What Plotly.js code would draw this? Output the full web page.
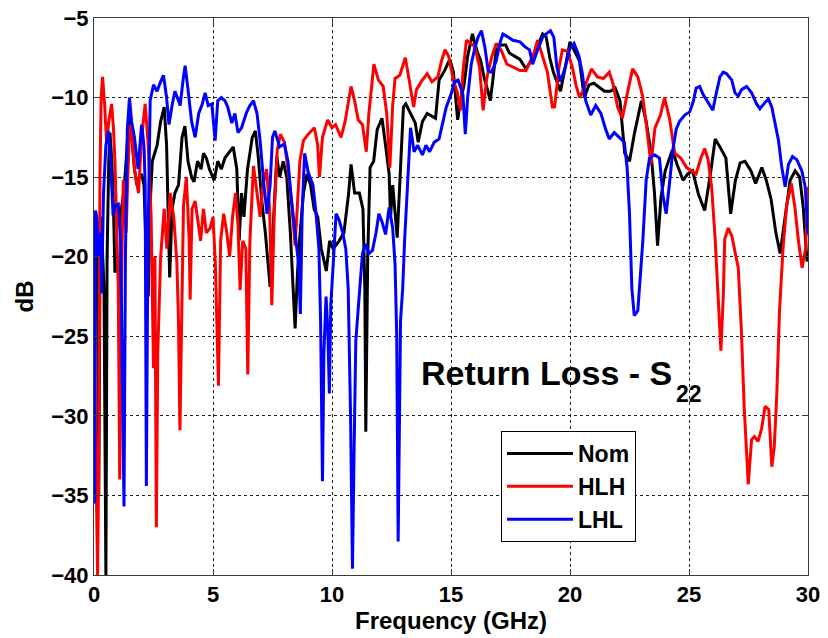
<!DOCTYPE html>
<html>
<head>
<meta charset="utf-8">
<script src="https://cdn.plot.ly/plotly-3.0.1.min.js"></script>
<style>
  html, body { margin: 0; padding: 0; background: #fff; }
  #chart { width: 828px; height: 638px; }
</style>
</head>
<body>
<div id="chart"></div>
<script>
// Return loss S22 for three process corners, frequency in GHz, level in dB.

const xTicks = [0, 5, 10, 15, 20, 25, 30];
const yTicks = [-40, -35, -30, -25, -20, -15, -10, -5];

const seriesNames = ['Nom', 'HLH', 'LHL'];

const freqNom = [0.00,0.05,0.10,0.15,0.20,0.25,0.30,0.35,0.42,0.50,0.55,0.62,0.67,0.75,0.82,0.88,0.95,1.02,1.08,1.15,1.25,1.35,1.45,1.52,1.60,1.70,1.80,1.90,2.00,2.10,2.20,2.28,2.35,2.45,2.55,2.65,2.80,2.95,3.05,3.18,3.28,3.40,3.55,3.70,3.82,3.95,4.10,4.20,4.35,4.50,4.60,4.72,4.85,5.05,5.20,5.35,5.50,5.65,5.85,6.00,6.10,6.20,6.30,6.45,6.65,6.78,6.90,7.05,7.20,7.40,7.55,7.68,7.80,7.95,8.10,8.25,8.45,8.55,8.65,8.80,8.95,9.10,9.25,9.40,9.55,9.76,9.90,10.05,10.30,10.50,10.70,10.80,10.95,11.15,11.30,11.38,11.42,11.50,11.60,11.75,11.90,12.10,12.25,12.40,12.46,12.55,12.74,12.88,13.00,13.10,13.30,13.50,13.62,13.80,14.00,14.20,14.35,14.50,14.70,14.95,15.10,15.28,15.40,15.55,15.70,15.90,16.10,16.25,16.40,16.55,16.65,16.75,16.90,17.10,17.30,17.45,17.70,17.90,18.15,18.35,18.60,18.85,19.00,19.15,19.30,19.60,19.80,20.00,20.20,20.40,20.60,20.80,21.00,21.20,21.45,21.70,21.90,22.10,22.30,22.50,22.70,23.00,23.20,23.40,23.55,23.68,23.82,24.00,24.30,24.50,24.75,24.95,25.15,25.40,25.66,25.90,26.10,26.30,26.55,26.75,26.95,27.15,27.35,27.60,27.80,28.06,28.25,28.45,28.65,28.83,29.05,29.25,29.46,29.65,29.80,29.96,30.00];
const dbNom = [-20.5,-23,-19,-22,-35,-21,-17.5,-19,-22,-40,-20,-14,-12.2,-14,-17,-21,-20,-20.5,-26.9,-17,-16,-14,-11.5,-11.3,-13,-14.5,-15.5,-15,-14.8,-15.5,-20,-22.5,-17,-14,-13.5,-13,-11.5,-10.6,-13,-21.3,-17,-16,-15.5,-12.5,-11.8,-14,-15,-15.3,-14,-14.5,-13.5,-13.8,-14.5,-15.2,-14,-14.5,-13.8,-13.5,-13.1,-14.5,-19,-16,-17.5,-14.5,-12.5,-12.1,-13.7,-16.5,-18.5,-21.9,-17.5,-13.7,-15,-14,-15,-18.5,-24.5,-21,-18.7,-16,-14.8,-15.5,-17,-17.5,-19.5,-20.9,-19,-19.5,-19,-18.5,-16,-14.2,-16,-16,-17,-22,-31,-20,-14.4,-14,-12,-11.3,-13,-14.8,-17.5,-15.5,-18.8,-14.4,-10.6,-10.4,-11,-11.6,-12.8,-11.5,-11,-11.2,-11.3,-8.9,-8.4,-7.6,-8.4,-11.4,-10.2,-9.2,-7.4,-6,-7.1,-7.7,-8.8,-9.6,-10.2,-9,-7,-6.7,-6.7,-7.2,-7.4,-7.6,-8.2,-7.7,-6.9,-6,-6.2,-7.5,-8.4,-9.6,-8.1,-6.5,-7.1,-7.7,-10,-9.2,-9.1,-9.3,-9.6,-9.6,-9.4,-10.2,-13.5,-14,-12.3,-10.2,-11.5,-13.4,-16,-19.3,-16.3,-14.6,-13.3,-14.2,-15.2,-14.8,-14.6,-16.1,-17.1,-14.8,-12.6,-13.1,-13.8,-17.3,-15.2,-14.1,-14.0,-14.6,-15.4,-14.4,-15.2,-16.4,-18.5,-19.8,-17.5,-15.2,-14.6,-15.0,-16.9,-20.3,-20];

const freqHLH = [0.00,0.05,0.10,0.15,0.20,0.25,0.30,0.36,0.45,0.53,0.62,0.74,0.82,0.88,0.95,1.02,1.08,1.15,1.23,1.35,1.42,1.50,1.60,1.70,1.87,2.00,2.15,2.28,2.40,2.50,2.56,2.62,2.68,2.80,2.95,3.06,3.20,3.35,3.48,3.55,3.61,3.70,3.76,3.88,4.00,4.04,4.12,4.25,4.35,4.48,4.60,4.72,4.88,5.00,5.10,5.23,5.32,5.45,5.58,5.70,5.82,5.95,6.05,6.14,6.25,6.38,6.46,6.55,6.70,6.85,6.98,7.10,7.25,7.38,7.47,7.58,7.70,7.83,8.00,8.15,8.30,8.45,8.55,8.65,8.80,9.00,9.26,9.40,9.47,9.60,9.82,10.00,10.15,10.38,10.55,10.80,10.95,11.10,11.28,11.44,11.55,11.76,11.95,12.15,12.30,12.43,12.55,12.65,12.85,13.08,13.22,13.43,13.55,13.75,14.00,14.20,14.45,14.60,14.75,14.90,15.10,15.25,15.40,15.50,15.65,15.85,16.00,16.20,16.35,16.50,16.70,16.90,17.10,17.35,17.60,17.90,18.15,18.45,18.64,18.85,19.05,19.26,19.35,19.54,19.68,19.90,20.10,20.25,20.40,20.60,20.75,20.90,21.15,21.40,21.65,21.80,22.00,22.20,22.40,22.63,22.85,23.05,23.25,23.40,23.57,23.80,23.97,24.18,24.40,24.65,24.90,25.10,25.30,25.50,25.66,25.80,25.95,26.10,26.22,26.34,26.44,26.50,26.65,26.80,27.07,27.20,27.32,27.49,27.63,27.75,27.90,28.05,28.20,28.35,28.48,28.58,28.69,28.80,28.95,29.10,29.30,29.45,29.60,29.75,29.90,30.00];
const dbHLH = [-24,-30,-37,-40,-33,-15,-10,-8.7,-10.5,-12.9,-11.5,-10.4,-12,-14,-18,-22,-34,-22,-15.2,-18.5,-15,-11.7,-12.5,-14.5,-16,-12.5,-10.4,-13,-17.5,-27,-20,-37,-26,-20,-17,-19.5,-16,-17.5,-20.3,-24,-30.9,-22,-16.8,-15.0,-19,-22.7,-17,-16.5,-17.5,-19,-17,-18.5,-18.2,-17.5,-20.5,-28.1,-19,-17.3,-18.5,-20,-17.5,-16,-18,-22.1,-19,-19.5,-27.4,-19,-14.3,-16.2,-17.5,-15.5,-14.5,-17,-23.05,-17,-13.3,-12.3,-12.8,-14.5,-16.5,-19.3,-17,-14,-12.7,-12.3,-11.9,-13,-15,-12.5,-11.4,-11.9,-11.7,-12.5,-11.5,-9.3,-10.2,-11.4,-11.7,-13.4,-11,-7.9,-8.9,-9.3,-11,-14.4,-10.5,-8.8,-8.6,-7.5,-8.7,-10.6,-9.5,-9.0,-8.5,-9.0,-8.7,-7.7,-7.0,-7.4,-8.9,-9.6,-10.8,-8.4,-6.4,-6.6,-6.8,-8.1,-10.8,-8.8,-7.5,-6.6,-7.0,-7.9,-8.1,-8.3,-8.3,-7.4,-6.4,-7.5,-8.4,-10.6,-10.6,-8.1,-7.0,-7.1,-8.1,-9.2,-10.0,-9.4,-8.8,-8.2,-8.7,-8.8,-8.4,-9.1,-10.6,-11.3,-9.8,-8.2,-8.7,-9.9,-12.2,-14.2,-11.9,-11.1,-10.0,-11.3,-13.5,-13.8,-14.4,-14.6,-14.8,-13.8,-13.2,-13.9,-15.6,-18.9,-22.7,-25.9,-22.5,-18.9,-18.2,-18.7,-20.7,-24.6,-29.5,-34.3,-31.5,-31.3,-31.6,-30.8,-29.4,-29.6,-33.2,-32,-28.6,-23.5,-19.5,-16.8,-15.4,-16.9,-19.0,-20.7,-19.5,-15.6];

const freqLHL = [0.00,0.03,0.06,0.12,0.20,0.28,0.32,0.40,0.50,0.60,0.70,0.80,0.90,1.02,1.12,1.20,1.26,1.32,1.40,1.49,1.58,1.70,1.85,2.00,2.10,2.15,2.20,2.26,2.36,2.50,2.65,2.80,2.92,3.05,3.15,3.28,3.40,3.55,3.62,3.75,3.83,3.95,4.10,4.25,4.40,4.55,4.67,4.80,4.95,5.09,5.20,5.35,5.50,5.62,5.79,5.92,6.05,6.20,6.42,6.55,6.70,6.85,6.98,7.12,7.27,7.40,7.50,7.60,7.80,8.00,8.15,8.30,8.45,8.60,8.67,8.75,8.85,9.00,9.20,9.33,9.45,9.52,9.60,9.66,9.75,9.82,9.89,9.95,10.05,10.17,10.30,10.45,10.58,10.68,10.78,10.86,10.93,11.00,11.10,11.20,11.28,11.42,11.55,11.70,11.85,11.97,12.10,12.25,12.40,12.55,12.65,12.72,12.78,12.88,12.97,13.05,13.15,13.30,13.45,13.60,13.80,13.95,14.10,14.30,14.50,14.65,14.80,15.00,15.15,15.30,15.50,15.60,15.70,15.85,16.00,16.14,16.28,16.42,16.56,16.70,16.90,17.05,17.18,17.40,17.60,17.90,18.10,18.30,18.43,18.64,18.85,19.00,19.18,19.32,19.45,19.60,19.80,20.00,20.17,20.38,20.52,20.66,20.87,21.08,21.30,21.50,21.65,21.86,22.07,22.28,22.40,22.50,22.60,22.70,22.85,22.92,23.06,23.20,23.34,23.55,23.76,23.90,24.04,24.18,24.32,24.46,24.60,24.82,25.03,25.17,25.30,25.45,25.59,25.80,26.00,26.15,26.30,26.44,26.58,26.80,26.93,27.07,27.21,27.42,27.63,27.84,27.98,28.20,28.34,28.48,28.62,28.76,28.90,29.04,29.18,29.35,29.53,29.74,29.88,30.00];
const dbLHL = [-18,-35.5,-17.1,-17.5,-20,-18.5,-22.3,-16,-13,-12.1,-14,-17.4,-16.8,-16.7,-19,-28,-35.7,-20,-12,-10,-11.5,-12.5,-14.5,-11.7,-13,-15.5,-34.4,-20,-10.2,-9.2,-9.6,-9.0,-8.6,-10,-11.7,-10.5,-9.6,-10.2,-10.5,-8.8,-8.0,-9.5,-11.5,-12.5,-11.0,-10.4,-9.7,-10.5,-10.4,-12.7,-10.2,-10.0,-10.2,-10.6,-11.6,-11.0,-12.2,-11.9,-10.9,-10.5,-10.2,-11.0,-12.7,-15.2,-17.3,-15.5,-12.5,-12.1,-13.1,-12.9,-14,-16.5,-18.5,-20.5,-23.6,-17,-13.5,-14.7,-15.5,-17.3,-19.5,-24,-34.1,-26,-22.5,-24.5,-28.6,-23,-20.5,-17.3,-17.7,-18.5,-19.5,-22,-30,-39.6,-32,-25.3,-23.3,-21,-19.8,-19.2,-19.8,-19.6,-18.5,-17.3,-17.8,-18.6,-16.9,-18.2,-20.5,-25,-37.9,-24,-22,-19,-16.1,-11.9,-13.4,-13.0,-13.6,-13.0,-13.4,-12.8,-12.6,-11.6,-10.6,-9.8,-9.0,-8.9,-9.8,-12.3,-10.0,-7.9,-6.9,-6.2,-5.8,-6.8,-8.3,-8.4,-7.7,-6.6,-6.0,-6.2,-6.4,-6.5,-6.8,-7.0,-7.9,-7.0,-6.2,-6.0,-5.8,-6.2,-8.1,-9.0,-8.1,-6.9,-6.6,-7.4,-8.5,-10.2,-11.1,-10.5,-11.0,-12.0,-12.6,-12.2,-12.5,-12.8,-14.4,-17.3,-22,-23.7,-23.4,-22.1,-19,-15.2,-13.8,-13.6,-13.8,-16.1,-17.3,-15.4,-13.3,-12.0,-11.5,-11.1,-10.9,-10.3,-9.4,-9.3,-9.8,-10.3,-10.8,-9.7,-8.7,-8.4,-8.5,-8.9,-9.7,-9.9,-9.5,-9.3,-9.7,-10.4,-10.7,-10.3,-10.1,-10.6,-11.6,-12.7,-14.4,-15.6,-14.2,-13.7,-13.9,-14.6,-15.6,-18.6];

const FONT = 'Liberation Sans, Arial, Helvetica, sans-serif';

function curve(name, x, y, color) {
  return {
    type: 'scatter', mode: 'lines', name: name,
    x: x, y: y,
    line: { color: color, width: 3 },
    hoverinfo: 'skip'
  };
}

const traces = [
  curve(seriesNames[0], freqNom, dbNom, '#000000'),
  curve(seriesNames[1], freqHLH, dbHLH, '#ff0000'),
  curve(seriesNames[2], freqLHL, dbLHL, '#0000ff')
];

const axisCommon = {
  showline: true, mirror: 'ticks', linecolor: '#3a3a3a', linewidth: 1,
  ticks: 'inside', ticklen: 6, tickcolor: '#3a3a3a',
  showgrid: true, gridcolor: '#222', gridwidth: 1, griddash: '3px,3px',
  zeroline: false, automargin: false, fixedrange: true,
  tickfont: { family: FONT, size: 22, color: '#000', weight: 700 }
};

const layout = {
  width: 828, height: 638,
  margin: { l: 94, r: 20, t: 18, b: 63 },
  paper_bgcolor: '#fff', plot_bgcolor: '#fff',
  font: { family: FONT, color: '#000' },
  xaxis: Object.assign({}, axisCommon, {
    range: [0, 30], tickmode: 'array', tickvals: xTicks,
    title: { text: 'Frequency (GHz)', standoff: 4,
             font: { family: FONT, size: 24, color: '#000', weight: 700 } }
  }),
  yaxis: Object.assign({}, axisCommon, {
    range: [-40, -5], tickmode: 'array', tickvals: yTicks,
    title: { text: 'dB', standoff: 10,
             font: { family: FONT, size: 24, color: '#000', weight: 700 } }
  }),
  showlegend: true,
  legend: {
    x: 0.570, y: 0.2585, xanchor: 'left', yanchor: 'top',
    bgcolor: '#fff', bordercolor: '#000', borderwidth: 1,
    itemwidth: 66,
    font: { family: FONT, size: 23, color: '#000', weight: 700 }
  },
  annotations: [
    { xref: 'paper', yref: 'paper', x: 0.634, y: 0.3627,
      xanchor: 'center', yanchor: 'middle', showarrow: false,
      text: 'Return Loss - S',
      font: { family: FONT, size: 34, color: '#000', weight: 700 } },
    { xref: 'paper', yref: 'paper', x: 0.8335, y: 0.3255,
      xanchor: 'center', yanchor: 'middle', showarrow: false,
      text: '22',
      font: { family: FONT, size: 23, color: '#000', weight: 700 } }
  ]
};

Plotly.newPlot('chart', traces, layout, { displayModeBar: false, staticPlot: true });
</script>
</body>
</html>
